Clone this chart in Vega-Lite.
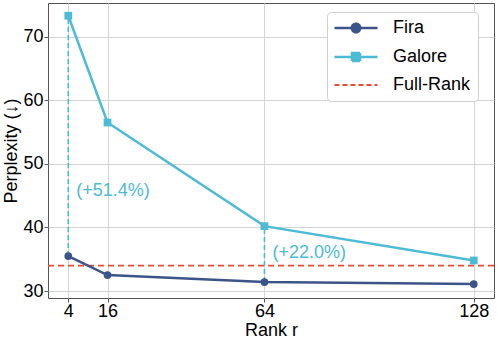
{
  "$schema": "https://vega.github.io/schema/vega-lite/v6.json",
  "autosize": {"type": "none"},
  "width": 446,
  "height": 295,
  "padding": {"left": 48, "top": 3, "right": 4, "bottom": 41},
  "background": "white",
  "config": {
    "font": "Liberation Sans",
    "view": {"stroke": "#555", "strokeWidth": 1},
    "axis": {
      "domain": false,
      "grid": true,
      "gridColor": "#d4d4d4",
      "gridWidth": 1,
      "tickColor": "#555",
      "tickSize": 4,
      "labelFontSize": 18,
      "labelColor": "black",
      "labelFont": "Liberation Sans",
      "titleFontSize": 18,
      "titleFontWeight": "normal",
      "titleColor": "black",
      "titleFont": "Liberation Sans"
    }
  },
  "datasets": {
    "series": [
      {"rank": 4, "ppl": 35.5, "method": "Fira"},
      {"rank": 16, "ppl": 32.5, "method": "Fira"},
      {"rank": 64, "ppl": 31.4, "method": "Fira"},
      {"rank": 128, "ppl": 31.1, "method": "Fira"},
      {"rank": 4, "ppl": 73.3, "method": "Galore"},
      {"rank": 16, "ppl": 56.5, "method": "Galore"},
      {"rank": 64, "ppl": 40.2, "method": "Galore"},
      {"rank": 128, "ppl": 34.8, "method": "Galore"}
    ],
    "gaps": [
      {"rank": 4, "low": 35.5, "high": 73.3, "label": "(+51.4%)", "ly": 45.8},
      {"rank": 64, "low": 31.4, "high": 40.2, "label": "(+22.0%)", "ly": 36.0}
    ],
    "full": [
      {"ppl": 34.0, "method": "Full-Rank"}
    ]
  },
  "layer": [
    {
      "data": {"name": "gaps"},
      "mark": {"type": "rule", "color": "#4DBBD5", "strokeDash": [5, 3], "strokeWidth": 1.6},
      "encoding": {
        "x": {"field": "rank", "type": "quantitative"},
        "y": {"field": "low", "type": "quantitative"},
        "y2": {"field": "high"}
      }
    },
    {
      "data": {"name": "full"},
      "mark": {"type": "rule", "strokeDash": [6, 4], "strokeWidth": 1.6},
      "encoding": {
        "y": {"field": "ppl", "type": "quantitative"},
        "color": {"field": "method", "type": "nominal"}
      }
    },
    {
      "data": {"name": "series"},
      "mark": {"type": "line", "strokeWidth": 2.5},
      "encoding": {
        "x": {"field": "rank", "type": "quantitative",
          "scale": {"domain": [-2.2, 134.2], "nice": false, "zero": false},
          "axis": {"values": [4, 16, 64, 128], "title": "Rank r", "titlePadding": 1, "labelPadding": 0}},
        "y": {"field": "ppl", "type": "quantitative",
          "scale": {"domain": [28.9, 75.3], "nice": false, "zero": false},
          "axis": {"values": [30, 40, 50, 60, 70], "title": "Perplexity (↓)", "titlePadding": 2, "labelPadding": 1}},
        "color": {
          "field": "method", "type": "nominal",
          "scale": {"domain": ["Fira", "Galore", "Full-Rank"], "range": ["#3C5488", "#4DBBD5", "#E64B35"]},
          "legend": {
            "title": null,
            "orient": "none",
            "legendX": 279,
            "legendY": 9,
            "padding": 7,
            "fillColor": "white",
            "strokeColor": "#d0d0d0",
            "cornerRadius": 4,
            "labelFontSize": 18,
            "labelFont": "Liberation Sans",
            "labelColor": "black",
            "labelOffset": 41,
            "rowPadding": 10,
            "symbolSize": 100,
            "symbolStrokeWidth": 2.5,
            "encode": {
              "symbols": {
                "update": {
                  "shape": {"signal": "datum.value === 'Fira' ? 'M-4.3,0H4.3M0.85,0A0.85,0.85 0 1,1 -0.85,0A0.85,0.85 0 1,1 0.85,0Z' : datum.value === 'Galore' ? 'M-4.3,0H4.3M-0.8,-0.8H0.8V0.8H-0.8Z' : 'M-4.3,0H4.3'"},
                  "fill": {"signal": "scale('color', datum.value)"},
                  "stroke": {"signal": "scale('color', datum.value)"},
                  "strokeDash": {"signal": "datum.value === 'Full-Rank' ? [5, 3] : [1, 0]"},
                  "strokeWidth": {"signal": "datum.value === 'Full-Rank' ? 1.8 : 2.5"},
                  "x": {"value": 22},
                  "opacity": {"value": 1}
                }
              }
            }
          }
        }
      }
    },
    {
      "data": {"name": "series"},
      "mark": {"type": "point", "filled": true, "opacity": 1},
      "encoding": {
        "x": {"field": "rank", "type": "quantitative"},
        "y": {"field": "ppl", "type": "quantitative"},
        "color": {"field": "method", "type": "nominal"},
        "shape": {"field": "method", "type": "nominal",
          "scale": {"domain": ["Fira", "Galore"], "range": ["circle", "square"]}, "legend": null},
        "size": {"value": 60}
      }
    },
    {
      "data": {"name": "gaps"},
      "mark": {"type": "text", "color": "#4DBBD5", "fontSize": 18, "align": "left", "baseline": "middle", "dx": 8, "font": "Liberation Sans"},
      "encoding": {
        "x": {"field": "rank", "type": "quantitative"},
        "y": {"field": "ly", "type": "quantitative"},
        "text": {"field": "label"}
      }
    }
  ]
}
